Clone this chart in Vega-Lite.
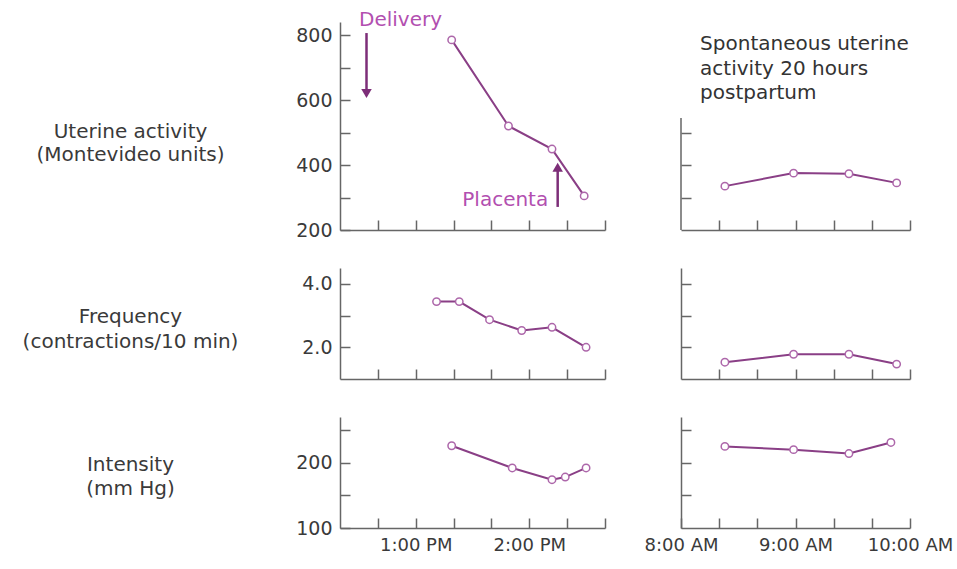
{
  "$schema": "https://vega.github.io/schema/vega-lite/v6.json",
  "background": "white",
  "padding": {"left": 22, "top": 10, "right": 5, "bottom": 5},
  "columns": 2,
  "align": "each",
  "bounds": "flush",
  "spacing": {"row": 38, "column": 76},
  "datasets": {
    "activity_delivery": [
      {"time": "2000-01-01T13:19", "value": 785},
      {"time": "2000-01-01T13:49", "value": 520},
      {"time": "2000-01-01T14:12", "value": 449},
      {"time": "2000-01-01T14:29", "value": 305}
    ],
    "activity_postpartum": [
      {"time": "2000-01-01T08:23", "value": 335},
      {"time": "2000-01-01T08:59", "value": 375},
      {"time": "2000-01-01T09:28", "value": 373},
      {"time": "2000-01-01T09:53", "value": 345}
    ],
    "frequency_delivery": [
      {"time": "2000-01-01T13:11", "value": 3.44},
      {"time": "2000-01-01T13:23", "value": 3.44},
      {"time": "2000-01-01T13:39", "value": 2.87},
      {"time": "2000-01-01T13:56", "value": 2.53},
      {"time": "2000-01-01T14:12", "value": 2.63},
      {"time": "2000-01-01T14:30", "value": 2.0}
    ],
    "frequency_postpartum": [
      {"time": "2000-01-01T08:23", "value": 1.53},
      {"time": "2000-01-01T08:59", "value": 1.78},
      {"time": "2000-01-01T09:28", "value": 1.78},
      {"time": "2000-01-01T09:53", "value": 1.47}
    ],
    "intensity_delivery": [
      {"time": "2000-01-01T13:19", "value": 226},
      {"time": "2000-01-01T13:51", "value": 192},
      {"time": "2000-01-01T14:12", "value": 174},
      {"time": "2000-01-01T14:19", "value": 178},
      {"time": "2000-01-01T14:30", "value": 192}
    ],
    "intensity_postpartum": [
      {"time": "2000-01-01T08:23", "value": 225},
      {"time": "2000-01-01T08:59", "value": 220},
      {"time": "2000-01-01T09:28", "value": 214},
      {"time": "2000-01-01T09:50", "value": 231}
    ],
    "annotations": [
      {"kind": "label", "label": "Delivery", "time": "2000-01-01T12:52", "value": 846},
      {"kind": "arrow", "label": "Delivery", "time": "2000-01-01T12:34", "value": 806, "value2": 625},
      {"kind": "head_down", "label": "Delivery", "time": "2000-01-01T12:34", "value": 620},
      {"kind": "label", "label": "Placenta", "time": "2000-01-01T14:10", "value": 292},
      {"kind": "arrow", "label": "Placenta", "time": "2000-01-01T14:15", "value": 271, "value2": 388},
      {"kind": "head_up", "label": "Placenta", "time": "2000-01-01T14:15", "value": 393},
      {"kind": "note", "label": "Spontaneous uterine\nactivity 20 hours\npostpartum", "time": "2000-01-01T08:10", "value": 803},
      {"kind": "axisline", "label": "", "time": "2000-01-01T08:00", "value": 200, "value2": 545}
    ]
  },
  "concat": [
    {
      "width": 265, "height": 208,
      "data": {"name": "activity_delivery"},
      "encoding": {
        "x": {"field": "time", "type": "temporal",
          "scale": {"domain": [{"year": 2000, "month": 1, "date": 1, "hours": 12, "minutes": 20}, {"year": 2000, "month": 1, "date": 1, "hours": 14, "minutes": 40}]},
          "axis": {"title": null, "labels": false,
            "values": [{"year": 2000, "month": 1, "date": 1, "hours": 12, "minutes": 40}, {"year": 2000, "month": 1, "date": 1, "hours": 13, "minutes": 0}, {"year": 2000, "month": 1, "date": 1, "hours": 13, "minutes": 20}, {"year": 2000, "month": 1, "date": 1, "hours": 13, "minutes": 40}, {"year": 2000, "month": 1, "date": 1, "hours": 14, "minutes": 0}, {"year": 2000, "month": 1, "date": 1, "hours": 14, "minutes": 20}, {"year": 2000, "month": 1, "date": 1, "hours": 14, "minutes": 40}]}},
        "y": {"field": "value", "type": "quantitative",
          "scale": {"domain": [200, 840], "nice": false, "zero": false},
          "axis": {"values": [200, 300, 400, 500, 600, 700, 800],
            "labelExpr": "datum.value % 200 === 0 ? datum.label : ''",
            "title": ["Uterine activity", "(Montevideo units)"],
            "titleAngle": 0, "titleAlign": "center", "titleBaseline": "middle",
            "titleX": -210, "titleY": 109.5, "titleLineHeight": 23}}
      },
      "layer": [
        {"mark": {"type": "line", "color": "#8a3f86", "strokeWidth": 2}},
        {"mark": {"type": "point", "shape": "circle", "filled": true, "fill": "white", "stroke": "#ad67aa", "strokeWidth": 1.5, "size": 55, "opacity": 1}},
        {"data": {"name": "annotations"}, "transform": [{"filter": "datum.kind === 'label' && datum.label === 'Delivery'"}],
          "mark": {"type": "text", "align": "center", "baseline": "middle", "fontSize": 20, "color": "#b24fb0", "font": "DejaVu Sans"},
          "encoding": {"text": {"field": "label"}}},
        {"data": {"name": "annotations"}, "transform": [{"filter": "datum.kind === 'label' && datum.label === 'Placenta'"}],
          "mark": {"type": "text", "align": "right", "baseline": "middle", "fontSize": 20, "color": "#b24fb0", "font": "DejaVu Sans"},
          "encoding": {"text": {"field": "label"}}},
        {"data": {"name": "annotations"}, "transform": [{"filter": "datum.kind === 'arrow'"}],
          "mark": {"type": "rule", "color": "#7d2e78", "strokeWidth": 2.5},
          "encoding": {"y2": {"field": "value2"}}},
        {"data": {"name": "annotations"}, "transform": [{"filter": "datum.kind === 'head_down'"}],
          "mark": {"type": "point", "shape": "triangle-down", "filled": true, "color": "#7d2e78", "size": 110, "opacity": 1}},
        {"data": {"name": "annotations"}, "transform": [{"filter": "datum.kind === 'head_up'"}],
          "mark": {"type": "point", "shape": "triangle-up", "filled": true, "color": "#7d2e78", "size": 110, "opacity": 1}}
      ]
    },
    {
      "width": 229, "height": 208,
      "data": {"name": "activity_postpartum"},
      "encoding": {
        "x": {"field": "time", "type": "temporal",
          "scale": {"domain": [{"year": 2000, "month": 1, "date": 1, "hours": 8, "minutes": 0}, {"year": 2000, "month": 1, "date": 1, "hours": 10, "minutes": 0}]},
          "axis": {"title": null, "labels": false,
            "values": [{"year": 2000, "month": 1, "date": 1, "hours": 8, "minutes": 20}, {"year": 2000, "month": 1, "date": 1, "hours": 8, "minutes": 40}, {"year": 2000, "month": 1, "date": 1, "hours": 9, "minutes": 0}, {"year": 2000, "month": 1, "date": 1, "hours": 9, "minutes": 20}, {"year": 2000, "month": 1, "date": 1, "hours": 9, "minutes": 40}, {"year": 2000, "month": 1, "date": 1, "hours": 10, "minutes": 0}]}},
        "y": {"field": "value", "type": "quantitative",
          "scale": {"domain": [200, 840], "nice": false, "zero": false},
          "axis": {"values": [300, 400, 500], "labels": false, "domain": false, "title": null}}
      },
      "layer": [
        {"data": {"name": "annotations"}, "transform": [{"filter": "datum.kind === 'axisline'"}],
          "mark": {"type": "rule", "color": "#666", "strokeWidth": 1.5},
          "encoding": {"y2": {"field": "value2"}}},
        {"mark": {"type": "line", "color": "#8a3f86", "strokeWidth": 2}},
        {"mark": {"type": "point", "shape": "circle", "filled": true, "fill": "white", "stroke": "#ad67aa", "strokeWidth": 1.5, "size": 55, "opacity": 1}},
        {"data": {"name": "annotations"}, "transform": [{"filter": "datum.kind === 'note'"}],
          "mark": {"type": "text", "align": "left", "baseline": "top", "fontSize": 20, "lineHeight": 24.5, "lineBreak": "\n", "color": "#333", "font": "DejaVu Sans"},
          "encoding": {"text": {"field": "label"}}}
      ]
    },
    {
      "width": 265, "height": 111,
      "data": {"name": "frequency_delivery"},
      "encoding": {
        "x": {"field": "time", "type": "temporal",
          "scale": {"domain": [{"year": 2000, "month": 1, "date": 1, "hours": 12, "minutes": 20}, {"year": 2000, "month": 1, "date": 1, "hours": 14, "minutes": 40}]},
          "axis": {"title": null, "labels": false,
            "values": [{"year": 2000, "month": 1, "date": 1, "hours": 12, "minutes": 40}, {"year": 2000, "month": 1, "date": 1, "hours": 13, "minutes": 0}, {"year": 2000, "month": 1, "date": 1, "hours": 13, "minutes": 20}, {"year": 2000, "month": 1, "date": 1, "hours": 13, "minutes": 40}, {"year": 2000, "month": 1, "date": 1, "hours": 14, "minutes": 0}, {"year": 2000, "month": 1, "date": 1, "hours": 14, "minutes": 20}, {"year": 2000, "month": 1, "date": 1, "hours": 14, "minutes": 40}]}},
        "y": {"field": "value", "type": "quantitative",
          "scale": {"domain": [1, 4.5], "nice": false, "zero": false},
          "axis": {"values": [2, 3, 4], "format": ".1f",
            "labelExpr": "datum.value % 2 === 0 ? datum.label : ''",
            "title": ["Frequency", "(contractions/10 min)"],
            "titleAngle": 0, "titleAlign": "center", "titleBaseline": "middle",
            "titleX": -210, "titleY": 48.5, "titleLineHeight": 25}}
      },
      "layer": [
        {"mark": {"type": "line", "color": "#8a3f86", "strokeWidth": 2}},
        {"mark": {"type": "point", "shape": "circle", "filled": true, "fill": "white", "stroke": "#ad67aa", "strokeWidth": 1.5, "size": 55, "opacity": 1}}
      ]
    },
    {
      "width": 229, "height": 111,
      "data": {"name": "frequency_postpartum"},
      "encoding": {
        "x": {"field": "time", "type": "temporal",
          "scale": {"domain": [{"year": 2000, "month": 1, "date": 1, "hours": 8, "minutes": 0}, {"year": 2000, "month": 1, "date": 1, "hours": 10, "minutes": 0}]},
          "axis": {"title": null, "labels": false,
            "values": [{"year": 2000, "month": 1, "date": 1, "hours": 8, "minutes": 20}, {"year": 2000, "month": 1, "date": 1, "hours": 8, "minutes": 40}, {"year": 2000, "month": 1, "date": 1, "hours": 9, "minutes": 0}, {"year": 2000, "month": 1, "date": 1, "hours": 9, "minutes": 20}, {"year": 2000, "month": 1, "date": 1, "hours": 9, "minutes": 40}, {"year": 2000, "month": 1, "date": 1, "hours": 10, "minutes": 0}]}},
        "y": {"field": "value", "type": "quantitative",
          "scale": {"domain": [1, 4.5], "nice": false, "zero": false},
          "axis": {"values": [2, 3, 4], "labels": false, "title": null}}
      },
      "layer": [
        {"mark": {"type": "line", "color": "#8a3f86", "strokeWidth": 2}},
        {"mark": {"type": "point", "shape": "circle", "filled": true, "fill": "white", "stroke": "#ad67aa", "strokeWidth": 1.5, "size": 55, "opacity": 1}}
      ]
    },
    {
      "width": 265, "height": 111,
      "data": {"name": "intensity_delivery"},
      "encoding": {
        "x": {"field": "time", "type": "temporal",
          "scale": {"domain": [{"year": 2000, "month": 1, "date": 1, "hours": 12, "minutes": 20}, {"year": 2000, "month": 1, "date": 1, "hours": 14, "minutes": 40}]},
          "axis": {"title": null, "labelFontSize": 18,
            "labelExpr": "minutes(datum.value) === 0 ? timeFormat(datum.value, '%-I:%M %p') : ''",
            "values": [{"year": 2000, "month": 1, "date": 1, "hours": 12, "minutes": 40}, {"year": 2000, "month": 1, "date": 1, "hours": 13, "minutes": 0}, {"year": 2000, "month": 1, "date": 1, "hours": 13, "minutes": 20}, {"year": 2000, "month": 1, "date": 1, "hours": 13, "minutes": 40}, {"year": 2000, "month": 1, "date": 1, "hours": 14, "minutes": 0}, {"year": 2000, "month": 1, "date": 1, "hours": 14, "minutes": 20}, {"year": 2000, "month": 1, "date": 1, "hours": 14, "minutes": 40}]}},
        "y": {"field": "value", "type": "quantitative",
          "scale": {"domain": [100, 270], "nice": false, "zero": false},
          "axis": {"values": [100, 150, 200, 250],
            "labelExpr": "datum.value % 100 === 0 ? datum.label : ''",
            "title": ["Intensity", "(mm Hg)"],
            "titleAngle": 0, "titleAlign": "center", "titleBaseline": "middle",
            "titleX": -210, "titleY": 47, "titleLineHeight": 24}}
      },
      "layer": [
        {"mark": {"type": "line", "color": "#8a3f86", "strokeWidth": 2}},
        {"mark": {"type": "point", "shape": "circle", "filled": true, "fill": "white", "stroke": "#ad67aa", "strokeWidth": 1.5, "size": 55, "opacity": 1}}
      ]
    },
    {
      "width": 229, "height": 111,
      "data": {"name": "intensity_postpartum"},
      "encoding": {
        "x": {"field": "time", "type": "temporal",
          "scale": {"domain": [{"year": 2000, "month": 1, "date": 1, "hours": 8, "minutes": 0}, {"year": 2000, "month": 1, "date": 1, "hours": 10, "minutes": 0}]},
          "axis": {"title": null, "labelFontSize": 18,
            "labelExpr": "minutes(datum.value) === 0 ? timeFormat(datum.value, '%-I:%M %p') : ''",
            "values": [{"year": 2000, "month": 1, "date": 1, "hours": 8, "minutes": 0}, {"year": 2000, "month": 1, "date": 1, "hours": 8, "minutes": 20}, {"year": 2000, "month": 1, "date": 1, "hours": 8, "minutes": 40}, {"year": 2000, "month": 1, "date": 1, "hours": 9, "minutes": 0}, {"year": 2000, "month": 1, "date": 1, "hours": 9, "minutes": 20}, {"year": 2000, "month": 1, "date": 1, "hours": 9, "minutes": 40}, {"year": 2000, "month": 1, "date": 1, "hours": 10, "minutes": 0}]}},
        "y": {"field": "value", "type": "quantitative",
          "scale": {"domain": [100, 270], "nice": false, "zero": false},
          "axis": {"values": [150, 200, 250], "labels": false, "title": null}}
      },
      "layer": [
        {"mark": {"type": "line", "color": "#8a3f86", "strokeWidth": 2}},
        {"mark": {"type": "point", "shape": "circle", "filled": true, "fill": "white", "stroke": "#ad67aa", "strokeWidth": 1.5, "size": 55, "opacity": 1}}
      ]
    }
  ],
  "config": {
    "view": {"stroke": null},
    "font": "DejaVu Sans",
    "axis": {
      "grid": false,
      "domainColor": "#666", "domainWidth": 1.5,
      "tickColor": "#666", "tickWidth": 1.5, "tickSize": -10,
      "labelFont": "DejaVu Sans", "labelColor": "#3a3a3a", "labelFontSize": 19,
      "labelPadding": 18,
      "labelFlush": false, "labelOverlap": false, "labelBound": false,
      "titleFont": "DejaVu Sans", "titleFontWeight": "normal", "titleColor": "#3a3a3a", "titleFontSize": 20
    }
  }
}
